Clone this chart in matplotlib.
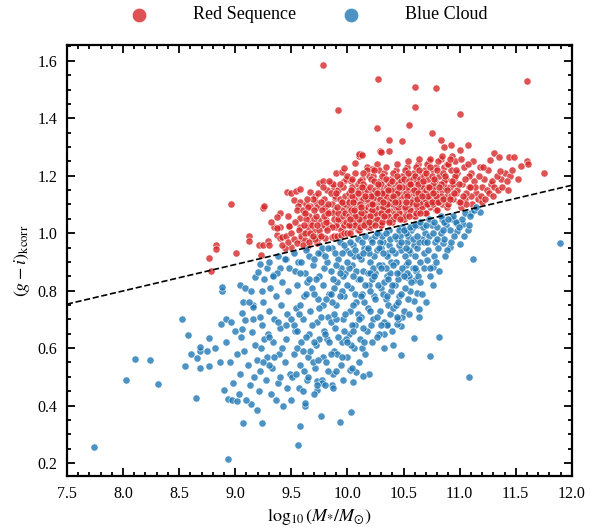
import numpy as np
import matplotlib
matplotlib.use("Agg")
import matplotlib.pyplot as plt
from matplotlib.ticker import MultipleLocator

plt.rcParams["font.family"] = "serif"
plt.rcParams["font.serif"] = ["Liberation Serif", "DejaVu Serif"]
plt.rcParams["mathtext.fontset"] = "stix"

# (log10 stellar mass, k-corrected g-i colour)
red_points = [
    # outliers / sparse upper part
    (9.78, 1.584), (10.27, 1.536), (10.60, 1.51), (10.79, 1.507), (11.60, 1.53), (9.92, 1.429),
    (10.60, 1.44), (11.00, 1.414), (10.26, 1.366), (10.55, 1.376), (10.75, 1.348), (10.37, 1.324),
    (10.49, 1.32), (10.83, 1.326), (10.86, 1.30), (10.92, 1.307), (11.07, 1.308), (11.00, 1.289),
    (10.29, 1.286), (10.37, 1.286), (10.12, 1.275), (10.10, 1.27), (11.31, 1.28), (11.35, 1.267),
    (11.44, 1.264), (11.48, 1.267), (11.55, 1.233), (11.60, 1.25), (11.61, 1.241), (11.75, 1.209),
    (11.27, 1.254),
    # right tail
    (11.40, 1.21), (11.45, 1.20), (11.37, 1.19), (11.42, 1.18), (11.47, 1.22), (11.28, 1.17),
    (11.29, 1.18), (11.33, 1.20), (11.36, 1.215), (11.25, 1.22), (11.22, 1.19), (11.20, 1.16),
    (11.18, 1.23), (11.15, 1.14), (11.24, 1.15), (11.31, 1.16), (11.52, 1.19), (11.12, 1.25),
    (11.10, 1.21), (11.13, 1.18), (11.08, 1.16), (11.16, 1.12), (11.20, 1.11), (11.05, 1.12),
    (11.11, 1.10), (11.01, 1.09), (11.06, 1.10), (11.10, 1.13), (11.14, 1.16), (11.17, 1.20),
    (11.21, 1.23), (11.19, 1.13), (11.23, 1.12), (11.26, 1.14), (11.30, 1.13), (11.34, 1.15),
    (11.38, 1.16), (11.43, 1.15),
    # left end
    (8.77, 0.914), (8.83, 0.96), (8.83, 0.945), (8.78, 0.869), (9.01, 0.93), (9.12, 0.99),
    (9.12, 0.973), (9.21, 0.96), (9.25, 0.96), (9.29, 0.973), (9.30, 0.96), (9.23, 0.924),
    (9.35, 1.02), (9.40, 1.02), (9.48, 1.026), (9.37, 0.994), (9.40, 0.985), (8.96, 1.102),
    (9.25, 1.087), (9.26, 1.093), (9.32, 1.04), (9.40, 1.07), (9.37, 1.058), (9.47, 1.06),
    (9.46, 1.142), (9.50, 1.139), (9.54, 1.148), (9.58, 1.154), (9.52, 1.116), (9.58, 1.11),
    (9.56, 1.093), (9.67, 1.142), (9.75, 1.174), (9.78, 1.182), (9.85, 1.174), (9.88, 1.156),
    (9.90, 1.209), (9.95, 1.214), (9.97, 1.226), (10.07, 1.244), (10.10, 1.275), (10.13, 1.272),
    (10.30, 1.282), (10.17, 1.23), (10.22, 1.225), (10.26, 1.24), (10.28, 1.22),
    (9.37, 1.017), (9.42, 0.988), (9.48, 1.025), (9.58, 1.023), (9.64, 1.0), (9.70, 1.011),
    (9.67, 1.035), (9.75, 1.046), (9.84, 1.075), (9.81, 1.023), (9.90, 1.023), (9.93, 1.046),
    (9.58, 1.052), (9.61, 1.069), (9.55, 1.08), (9.72, 1.11), (9.78, 1.093), (9.89, 1.122),
    (9.67, 1.093), (9.64, 0.953), (9.58, 0.976), (9.50, 0.953), (9.44, 0.947), (9.73, 0.965),
    (9.75, 0.994), (9.86, 0.988), (9.81, 1.046),
    (9.42, 0.96), (9.45, 0.99), (9.47, 0.97), (9.50, 1.00), (9.52, 0.98), (9.53, 1.04),
    (9.55, 0.965), (9.57, 1.01), (9.59, 0.99), (9.60, 1.08), (9.62, 0.975), (9.63, 1.10),
    (9.65, 1.02), (9.66, 1.06), (9.68, 0.985), (9.70, 1.05), (9.71, 1.13), (9.73, 1.09),
    (9.74, 0.985), (9.77, 1.03), (9.79, 1.12), (9.80, 1.09), (9.82, 1.15), (9.84, 1.03),
    (9.86, 1.10), (9.87, 1.17), (9.89, 1.08), (9.90, 1.03), (9.92, 1.15), (9.94, 1.10),
    (9.96, 1.02), (9.97, 1.18), (9.99, 1.09),
    # 9.6 - 9.9
    (9.60, 0.96), (9.62, 1.00), (9.63, 1.05), (9.65, 1.09), (9.66, 0.97), (9.68, 1.03),
    (9.69, 1.12), (9.71, 0.98), (9.72, 1.06), (9.74, 1.14), (9.75, 1.01), (9.77, 1.08),
    (9.78, 1.16), (9.80, 0.985), (9.81, 1.04), (9.83, 1.10), (9.84, 1.18), (9.86, 1.02),
    (9.87, 1.07), (9.89, 1.13), (9.62, 1.07), (9.64, 1.12), (9.67, 1.00), (9.70, 1.08),
    (9.73, 1.03), (9.76, 1.11), (9.79, 1.06), (9.82, 1.01), (9.85, 1.14), (9.88, 1.05),
    (9.61, 1.03), (9.69, 0.99), (9.76, 0.99), (9.83, 1.07), (9.88, 0.99),
    # 9.9 - 10.0
    (9.91, 0.99), (9.92, 1.05), (9.93, 1.12), (9.94, 1.01), (9.95, 1.08), (9.96, 1.16),
    (9.97, 1.03), (9.98, 1.10), (9.99, 1.19), (9.90, 1.14), (9.92, 1.07), (9.94, 0.995),
    (9.96, 1.06), (9.98, 1.13), (9.93, 1.17), (9.97, 1.00), (9.99, 1.04), (9.91, 1.09),
    (9.95, 1.11), (9.98, 1.07),
    # 10.0 - 10.1
    (10.00, 1.00), (10.01, 1.06), (10.02, 1.12), (10.03, 1.18), (10.04, 1.02), (10.05, 1.09),
    (10.06, 1.15), (10.07, 1.21), (10.08, 1.04), (10.09, 1.11), (10.01, 1.14), (10.03, 1.03),
    (10.05, 1.07), (10.07, 1.13), (10.09, 1.01), (10.02, 1.09), (10.04, 1.16), (10.06, 1.05),
    (10.08, 1.10), (10.00, 1.20), (10.03, 1.08), (10.06, 1.12), (10.09, 1.17), (10.02, 1.00),
    (10.05, 1.04), (10.08, 1.07), (10.01, 1.11), (10.07, 1.03), (10.04, 1.13), (10.09, 1.06),
    # 10.1 - 10.2
    (10.10, 1.01), (10.11, 1.07), (10.12, 1.13), (10.13, 1.19), (10.14, 1.03), (10.15, 1.10),
    (10.16, 1.16), (10.17, 1.22), (10.18, 1.05), (10.19, 1.12), (10.10, 1.15), (10.12, 1.04),
    (10.14, 1.08), (10.16, 1.11), (10.18, 1.02), (10.11, 1.18), (10.13, 1.06), (10.15, 1.14),
    (10.17, 1.09), (10.19, 1.07), (10.10, 1.09), (10.12, 1.10), (10.14, 1.17), (10.16, 1.04),
    (10.18, 1.13), (10.11, 1.02), (10.13, 1.12), (10.15, 1.06), (10.17, 1.15), (10.19, 1.20),
    (10.14, 1.12), (10.16, 1.08), (10.12, 1.07), (10.18, 1.09), (10.10, 1.05),
    # 10.2 - 10.3
    (10.20, 1.02), (10.21, 1.08), (10.22, 1.14), (10.23, 1.20), (10.24, 1.04), (10.25, 1.11),
    (10.26, 1.17), (10.27, 1.06), (10.28, 1.13), (10.29, 1.03), (10.20, 1.16), (10.22, 1.05),
    (10.24, 1.09), (10.26, 1.12), (10.28, 1.07), (10.21, 1.19), (10.23, 1.07), (10.25, 1.15),
    (10.27, 1.10), (10.29, 1.18), (10.20, 1.10), (10.22, 1.11), (10.24, 1.18), (10.26, 1.05),
    (10.28, 1.16), (10.21, 1.03), (10.23, 1.13), (10.25, 1.07), (10.27, 1.14), (10.29, 1.09),
    (10.24, 1.12), (10.26, 1.09), (10.22, 1.08), (10.28, 1.11), (10.20, 1.06),
    # 10.3 - 10.4
    (10.30, 1.03), (10.31, 1.09), (10.32, 1.15), (10.33, 1.21), (10.34, 1.05), (10.35, 1.12),
    (10.36, 1.18), (10.37, 1.07), (10.38, 1.14), (10.39, 1.04), (10.30, 1.17), (10.32, 1.06),
    (10.34, 1.10), (10.36, 1.13), (10.38, 1.08), (10.31, 1.20), (10.33, 1.08), (10.35, 1.16),
    (10.37, 1.11), (10.39, 1.19), (10.30, 1.11), (10.32, 1.12), (10.34, 1.19), (10.36, 1.06),
    (10.38, 1.17), (10.31, 1.04), (10.33, 1.14), (10.35, 1.08), (10.37, 1.15), (10.39, 1.10),
    (10.34, 1.13), (10.36, 1.10), (10.32, 1.09), (10.38, 1.12), (10.30, 1.07),
    # 10.4 - 10.5
    (10.40, 1.04), (10.41, 1.10), (10.42, 1.16), (10.43, 1.22), (10.44, 1.06), (10.45, 1.13),
    (10.46, 1.19), (10.47, 1.08), (10.48, 1.15), (10.49, 1.05), (10.40, 1.18), (10.42, 1.07),
    (10.44, 1.11), (10.46, 1.14), (10.48, 1.09), (10.41, 1.21), (10.43, 1.09), (10.45, 1.17),
    (10.47, 1.12), (10.49, 1.20), (10.40, 1.12), (10.42, 1.13), (10.44, 1.20), (10.46, 1.07),
    (10.48, 1.18), (10.41, 1.05), (10.43, 1.15), (10.45, 1.09), (10.47, 1.16), (10.49, 1.11),
    (10.44, 1.14), (10.46, 1.10),
    # 10.5 - 10.6
    (10.50, 1.05), (10.51, 1.11), (10.52, 1.17), (10.53, 1.23), (10.54, 1.07), (10.55, 1.14),
    (10.56, 1.20), (10.57, 1.09), (10.58, 1.16), (10.59, 1.06), (10.50, 1.19), (10.52, 1.08),
    (10.54, 1.12), (10.56, 1.15), (10.58, 1.10), (10.51, 1.22), (10.53, 1.10), (10.55, 1.18),
    (10.57, 1.13), (10.59, 1.21), (10.50, 1.13), (10.52, 1.14), (10.54, 1.21), (10.56, 1.08),
    (10.58, 1.19), (10.51, 1.06), (10.53, 1.16), (10.55, 1.10), (10.57, 1.17), (10.59, 1.12),
    # 10.6 - 10.7
    (10.60, 1.06), (10.61, 1.12), (10.62, 1.18), (10.63, 1.24), (10.64, 1.08), (10.65, 1.15),
    (10.66, 1.21), (10.67, 1.10), (10.68, 1.17), (10.69, 1.07), (10.60, 1.20), (10.62, 1.09),
    (10.64, 1.13), (10.66, 1.16), (10.68, 1.11), (10.61, 1.23), (10.63, 1.11), (10.65, 1.19),
    (10.67, 1.14), (10.69, 1.22), (10.60, 1.14), (10.62, 1.15), (10.64, 1.22), (10.66, 1.09),
    (10.68, 1.20), (10.61, 1.07), (10.63, 1.17), (10.65, 1.11),
    # 10.7 - 10.8
    (10.70, 1.07), (10.71, 1.13), (10.72, 1.19), (10.73, 1.25), (10.74, 1.09), (10.75, 1.16),
    (10.76, 1.22), (10.77, 1.11), (10.78, 1.18), (10.79, 1.08), (10.70, 1.21), (10.72, 1.10),
    (10.74, 1.14), (10.76, 1.17), (10.78, 1.12), (10.71, 1.24), (10.73, 1.12), (10.75, 1.20),
    (10.77, 1.15), (10.79, 1.23), (10.70, 1.15), (10.72, 1.16), (10.74, 1.23), (10.76, 1.10),
    # 10.8 - 10.9
    (10.80, 1.08), (10.81, 1.14), (10.82, 1.20), (10.83, 1.26), (10.84, 1.10), (10.85, 1.17),
    (10.86, 1.23), (10.87, 1.12), (10.88, 1.19), (10.89, 1.09), (10.80, 1.22), (10.82, 1.11),
    (10.84, 1.15), (10.86, 1.18), (10.88, 1.13), (10.81, 1.25), (10.83, 1.13), (10.85, 1.21),
    (10.87, 1.16), (10.89, 1.24),
    # 10.9 - 11.1
    (10.90, 1.10), (10.91, 1.16), (10.92, 1.22), (10.93, 1.27), (10.94, 1.12), (10.95, 1.19),
    (10.96, 1.25), (10.97, 1.14), (10.98, 1.21), (10.99, 1.11), (10.90, 1.24), (10.92, 1.13),
    (10.94, 1.17), (10.96, 1.20), (10.98, 1.15), (10.91, 1.26),
    (11.00, 1.11), (11.02, 1.17), (11.04, 1.23), (11.06, 1.14), (11.08, 1.20), (11.01, 1.26),
    (11.03, 1.13), (11.05, 1.19), (11.07, 1.24), (11.09, 1.16),
    # core, extra
    (10.01, 1.03), (10.03, 1.15), (10.05, 1.11), (10.07, 1.06), (10.09, 1.14), (10.11, 1.10),
    (10.13, 1.16), (10.15, 1.03), (10.17, 1.12), (10.19, 1.04), (10.21, 1.13), (10.23, 1.10),
    (10.25, 1.03), (10.27, 1.17), (10.29, 1.12), (10.31, 1.14), (10.33, 1.06), (10.35, 1.10),
    (10.37, 1.04), (10.39, 1.15), (10.41, 1.13), (10.43, 1.06), (10.45, 1.11), (10.47, 1.05),
    (10.49, 1.16), (10.51, 1.09), (10.53, 1.13), (10.55, 1.06), (10.57, 1.11), (10.59, 1.15),
    (10.61, 1.10), (10.63, 1.14), (10.65, 1.07), (10.67, 1.18), (10.69, 1.12), (10.71, 1.10),
    (10.73, 1.16), (10.75, 1.11), (10.77, 1.19), (10.79, 1.13), (10.81, 1.11), (10.83, 1.17),
    (10.85, 1.12), (10.87, 1.20), (10.89, 1.15), (10.91, 1.12), (10.93, 1.18), (10.95, 1.14),
    (10.97, 1.22), (10.99, 1.17), (10.04, 1.19), (10.14, 1.21), (10.24, 1.22), (10.34, 1.23),
    (10.44, 1.24), (10.54, 1.25), (10.64, 1.26), (10.74, 1.26), (10.84, 1.27), (10.02, 1.05),
    (10.12, 1.09), (10.22, 1.10), (10.32, 1.11), (10.42, 1.11), (10.52, 1.11), (10.62, 1.12),
    (10.72, 1.13), (10.82, 1.16), (10.06, 1.08), (10.16, 1.13), (10.26, 1.14), (10.36, 1.15),
    (10.46, 1.16), (10.56, 1.17), (10.66, 1.13), (10.76, 1.14),
]

blue_points = [
    # sparse / outliers
    (7.74, 0.255), (8.03, 0.49), (8.11, 0.562), (8.24, 0.558), (8.31, 0.475), (8.53, 0.701),
    (8.58, 0.644), (8.55, 0.538), (8.65, 0.426), (8.61, 0.578), (8.66, 0.566), (8.69, 0.59),
    (8.75, 0.59), (8.69, 0.605), (8.77, 0.634), (8.82, 0.60), (8.69, 0.53), (8.77, 0.537),
    (8.88, 0.80), (8.88, 0.814), (8.92, 0.703), (8.96, 0.69), (8.87, 0.684), (8.86, 0.55),
    (8.90, 0.453), (8.94, 0.424), (8.97, 0.419), (9.02, 0.415), (8.94, 0.213), (9.07, 0.339),
    (9.24, 0.339), (9.14, 0.406), (9.19, 0.384), (9.56, 0.262), (9.58, 0.328), (9.62, 0.398),
    (9.04, 0.82), (9.09, 0.808), (9.07, 0.761), (9.16, 0.75), (9.06, 0.723), (9.18, 0.846),
    (9.20, 0.864), (9.22, 0.892), (9.34, 0.854), (9.40, 0.88), (9.45, 0.909), (9.76, 0.364),
    (9.93, 0.343), (10.03, 0.378), (11.89, 0.965), (11.12, 0.911), (10.82, 0.638), (10.74, 0.572),
    (10.59, 0.634), (10.48, 0.576), (10.41, 0.61), (10.33, 0.60), (10.33, 0.649), (10.64, 0.707),
    (10.64, 0.735), (10.49, 0.709), (10.48, 0.677), (10.44, 0.683), (10.35, 0.683), (10.70, 0.759),
    (10.62, 0.793), (10.76, 0.82), (10.74, 0.851), (10.76, 0.883), (10.71, 0.907), (10.85, 0.965),
    (10.91, 0.953), (11.00, 0.961), (10.92, 0.97), (10.98, 1.007), (11.07, 1.011), (11.18, 1.075),
    (11.10, 1.072), (11.03, 1.031), (10.97, 1.035), (10.59, 0.764), (10.56, 0.80), (10.60, 0.837),
    (10.53, 0.846), (11.08, 0.498), (10.19, 0.509), (10.14, 0.502), (10.05, 0.481), (10.08, 0.516),
    (10.02, 0.523), (9.86, 0.473), (9.73, 0.485), (9.77, 0.489), (9.73, 0.454),
    # 8.9 - 9.2
    (8.92, 0.62), (8.95, 0.55), (8.98, 0.48), (9.00, 0.66), (9.02, 0.58), (9.04, 0.51),
    (9.06, 0.668), (9.05, 0.637), (9.09, 0.697), (9.15, 0.657), (9.16, 0.703), (9.16, 0.744),
    (9.08, 0.59), (9.11, 0.54), (9.13, 0.47), (9.18, 0.61), (9.19, 0.56), (9.12, 0.76),
    (9.14, 0.80), (9.03, 0.44), (9.10, 0.42), (9.17, 0.50),
    # 9.2 - 9.5
    (9.21, 0.45), (9.22, 0.52), (9.23, 0.60), (9.24, 0.68), (9.25, 0.76), (9.26, 0.84),
    (9.27, 0.49), (9.28, 0.57), (9.29, 0.65), (9.30, 0.73), (9.31, 0.81), (9.32, 0.44),
    (9.33, 0.53), (9.34, 0.62), (9.35, 0.70), (9.36, 0.78), (9.37, 0.86), (9.38, 0.48),
    (9.39, 0.58), (9.40, 0.67), (9.41, 0.75), (9.42, 0.83), (9.43, 0.40), (9.44, 0.55),
    (9.45, 0.63), (9.46, 0.72), (9.47, 0.80), (9.48, 0.88), (9.49, 0.51), (9.22, 0.71),
    (9.26, 0.63), (9.30, 0.54), (9.34, 0.85), (9.38, 0.69), (9.42, 0.60), (9.46, 0.46),
    (9.24, 0.80), (9.28, 0.88), (9.36, 0.42), (9.44, 0.91), (9.40, 0.50), (9.45, 0.68),
    (9.35, 0.57), (9.30, 0.64), (9.25, 0.55), (9.30, 0.90), (9.38, 0.92),
    # 9.5 - 9.8
    (9.50, 0.42), (9.51, 0.50), (9.52, 0.58), (9.53, 0.66), (9.54, 0.74), (9.55, 0.82),
    (9.56, 0.90), (9.57, 0.46), (9.58, 0.54), (9.59, 0.62), (9.60, 0.70), (9.61, 0.78),
    (9.62, 0.86), (9.63, 0.94), (9.64, 0.49), (9.65, 0.57), (9.66, 0.65), (9.67, 0.73),
    (9.68, 0.81), (9.69, 0.89), (9.70, 0.44), (9.71, 0.53), (9.72, 0.61), (9.73, 0.69),
    (9.74, 0.77), (9.75, 0.85), (9.76, 0.93), (9.77, 0.48), (9.78, 0.57), (9.79, 0.66),
    (9.52, 0.68), (9.55, 0.60), (9.58, 0.75), (9.61, 0.52), (9.64, 0.83), (9.67, 0.59),
    (9.70, 0.79), (9.73, 0.47), (9.76, 0.71), (9.79, 0.88), (9.53, 0.87), (9.57, 0.72),
    (9.60, 0.45), (9.63, 0.64), (9.66, 0.92), (9.69, 0.55), (9.72, 0.84), (9.75, 0.63),
    (9.78, 0.75), (9.54, 0.51), (9.62, 0.41), (9.68, 0.68), (9.74, 0.56), (9.77, 0.95),
    (9.59, 0.90), (9.50, 0.70), (9.55, 0.66), (9.58, 0.86), (9.63, 0.79), (9.66, 0.84),
    (9.70, 0.91), (9.74, 0.93), (9.78, 0.82), (9.60, 0.59), (9.65, 0.50), (9.70, 0.62),
    (9.75, 0.74), (9.52, 0.93),
    # 9.8 - 10.1
    (9.80, 0.47), (9.81, 0.55), (9.82, 0.63), (9.83, 0.71), (9.84, 0.79), (9.85, 0.87),
    (9.86, 0.95), (9.87, 0.51), (9.88, 0.59), (9.89, 0.67), (9.90, 0.75), (9.91, 0.83),
    (9.92, 0.91), (9.93, 0.97), (9.94, 0.54), (9.95, 0.62), (9.96, 0.70), (9.97, 0.78),
    (9.98, 0.86), (9.99, 0.94), (10.00, 0.57), (10.01, 0.65), (10.02, 0.73), (10.03, 0.81),
    (10.04, 0.89), (10.05, 0.96), (10.06, 0.60), (10.07, 0.68), (10.08, 0.76), (10.09, 0.84),
    (9.82, 0.90), (9.85, 0.69), (9.88, 0.81), (9.91, 0.58), (9.94, 0.88), (9.97, 0.66),
    (10.00, 0.82), (10.03, 0.61), (10.06, 0.92), (10.09, 0.72), (9.83, 0.52), (9.86, 0.76),
    (9.89, 0.93), (9.92, 0.64), (9.95, 0.80), (9.98, 0.72), (10.01, 0.88), (10.04, 0.68),
    (10.07, 0.79), (9.81, 0.77), (9.84, 0.62), (9.87, 0.84), (9.90, 0.70), (9.93, 0.78),
    (9.96, 0.85), (9.99, 0.63), (10.02, 0.93), (10.05, 0.75), (10.08, 0.87), (9.87, 0.46),
    (9.96, 0.49), (10.04, 0.53), (9.80, 0.92), (9.83, 0.95), (9.85, 0.79), (9.88, 0.72),
    (9.90, 0.89), (9.93, 0.86), (9.95, 0.93), (9.97, 0.96), (10.00, 0.90), (10.02, 0.97),
    (10.05, 0.85), (10.07, 0.94), (10.09, 0.98), (9.85, 0.58), (9.90, 0.52), (9.95, 0.57),
    (10.00, 0.62), (10.05, 0.66), (9.80, 0.65),
    # 10.1 - 10.4
    (10.10, 0.55), (10.11, 0.63), (10.12, 0.71), (10.13, 0.79), (10.14, 0.87), (10.15, 0.95),
    (10.16, 0.58), (10.17, 0.66), (10.18, 0.74), (10.19, 0.82), (10.20, 0.90), (10.21, 0.98),
    (10.22, 0.62), (10.23, 0.70), (10.24, 0.78), (10.25, 0.86), (10.26, 0.94), (10.27, 1.00),
    (10.28, 0.65), (10.29, 0.73), (10.30, 0.81), (10.31, 0.89), (10.32, 0.97), (10.33, 0.69),
    (10.34, 0.77), (10.35, 0.85), (10.36, 0.93), (10.37, 1.01), (10.38, 0.72), (10.39, 0.80),
    (10.12, 0.91), (10.15, 0.76), (10.18, 0.86), (10.21, 0.68), (10.24, 0.92), (10.27, 0.82),
    (10.30, 0.95), (10.33, 0.83), (10.36, 0.75), (10.39, 0.90), (10.11, 0.84), (10.14, 0.67),
    (10.17, 0.94), (10.20, 0.80), (10.23, 0.88), (10.26, 0.71), (10.29, 0.97), (10.32, 0.79),
    (10.35, 0.92), (10.38, 0.86), (10.13, 0.97), (10.19, 0.93), (10.25, 0.99), (10.31, 0.99),
    (10.37, 0.96), (10.16, 0.82), (10.22, 0.84), (10.28, 0.89), (10.34, 0.88), (10.13, 0.60),
    (10.26, 0.64), (10.35, 0.68), (10.10, 0.92), (10.12, 0.78), (10.14, 0.93), (10.16, 0.99),
    (10.18, 0.95), (10.20, 0.86), (10.22, 0.97), (10.24, 0.85), (10.26, 1.00), (10.28, 0.95),
    (10.30, 0.88), (10.32, 0.93), (10.34, 1.00), (10.36, 0.84), (10.38, 0.98), (10.10, 0.70),
    (10.15, 0.62), (10.20, 0.73), (10.25, 0.77), (10.30, 0.68), (10.35, 0.78),
    # 10.4 - 10.7
    (10.40, 0.66), (10.41, 0.74), (10.42, 0.82), (10.43, 0.90), (10.44, 0.98), (10.45, 0.70),
    (10.46, 0.78), (10.47, 0.86), (10.48, 0.94), (10.49, 1.02), (10.50, 0.73), (10.51, 0.81),
    (10.52, 0.89), (10.53, 0.97), (10.54, 0.77), (10.55, 0.85), (10.56, 0.93), (10.57, 1.01),
    (10.58, 0.88), (10.59, 0.96), (10.61, 0.87), (10.62, 0.95), (10.63, 1.03), (10.65, 0.90),
    (10.66, 0.98), (10.68, 0.93), (10.69, 1.00), (10.42, 0.93), (10.45, 0.84), (10.48, 0.79),
    (10.51, 0.92), (10.54, 0.99), (10.57, 0.83), (10.60, 0.92), (10.63, 0.85), (10.66, 0.79),
    (10.43, 0.75), (10.46, 0.96), (10.49, 0.88), (10.52, 1.00), (10.55, 0.94), (10.58, 1.02),
    (10.64, 0.97), (10.67, 1.02), (10.41, 0.89), (10.47, 0.99), (10.53, 0.86), (10.44, 0.71),
    (10.40, 0.94), (10.42, 0.99), (10.44, 0.86), (10.46, 1.01), (10.48, 0.97), (10.50, 1.01),
    (10.52, 0.95), (10.54, 0.90), (10.56, 1.02), (10.58, 0.98), (10.60, 1.03), (10.62, 0.99),
    (10.65, 1.04), (10.68, 0.97), (10.40, 0.82), (10.45, 0.76), (10.50, 0.85), (10.55, 0.72),
    (10.60, 0.88), (10.65, 0.83), (10.68, 0.88),
    # 10.7 - 11.2
    (10.72, 0.94), (10.73, 0.99), (10.75, 1.03), (10.77, 0.92), (10.78, 0.97), (10.80, 1.02),
    (10.81, 0.95), (10.83, 1.00), (10.84, 1.05), (10.86, 0.98), (10.88, 1.03), (10.89, 0.94),
    (10.91, 1.01), (10.93, 1.05), (10.95, 0.99), (10.97, 1.04), (10.74, 0.88), (10.79, 0.90),
    (10.82, 0.87), (10.87, 0.92), (10.71, 0.97), (10.76, 1.00), (10.85, 1.01), (10.94, 1.06),
    (10.99, 1.02), (11.02, 1.05), (11.05, 1.07), (11.09, 1.06), (11.13, 1.08), (11.15, 1.09),
    (11.04, 0.99), (11.08, 1.03), (10.70, 1.03), (10.73, 1.05), (10.77, 1.04), (10.80, 0.98),
    (10.83, 1.06), (10.86, 1.04), (10.90, 1.05),
]

# dividing line between the two populations
cut_slope = 0.092
cut_intercept = 0.063

red = np.array(red_points)
blue = np.array(blue_points)

fig = plt.figure(figsize=(5.92, 5.30), dpi=100)
ax = fig.add_axes([0.113, 0.102, 0.853, 0.813])

ax.scatter(red[:, 0], red[:, 1], s=27, color="#d62728", alpha=0.8,
           edgecolor="white", linewidth=0.5, label="Red Sequence", zorder=2)
ax.scatter(blue[:, 0], blue[:, 1], s=27, color="#1f77b4", alpha=0.8,
           edgecolor="white", linewidth=0.5, label="Blue Cloud", zorder=2)
ax.axline((0, cut_intercept), slope=cut_slope, color="black", ls="--", lw=1.2, zorder=3)

ax.set_xlim(7.5, 12.0)
ax.set_ylim(0.155, 1.655)
ax.xaxis.set_major_locator(MultipleLocator(0.5))
ax.xaxis.set_minor_locator(MultipleLocator(0.1))
ax.yaxis.set_major_locator(MultipleLocator(0.2))
ax.yaxis.set_minor_locator(MultipleLocator(0.05))
ax.tick_params(which="both", direction="in", top=True, right=True, labelsize=11.5, width=1.3)
ax.tick_params(which="major", length=6, pad=7)
ax.tick_params(which="minor", length=3)
for sp in ax.spines.values():
    sp.set_linewidth(1.6)

ax.set_xlabel(r"$\log_{10}(M_{*}/M_{\odot})$", fontsize=13)
ax.set_ylabel(r"$(g-i)_{\rm kcorr}$", fontsize=13)

ax.legend(loc="lower center", bbox_to_anchor=(0.47, 1.025), ncol=2, frameon=False,
          fontsize=13, markerscale=2.0, columnspacing=2.0, handletextpad=2.0,
          borderaxespad=0.2)

fig.savefig("out.png", dpi=100)
